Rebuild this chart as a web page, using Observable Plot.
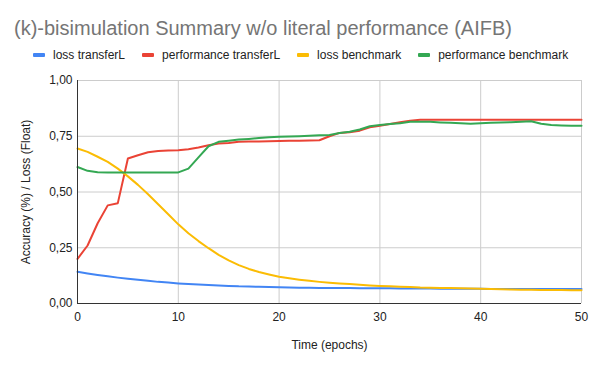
<!DOCTYPE html>
<html>
<head>
<meta charset="utf-8">
<script src="https://cdn.jsdelivr.net/npm/d3@7"></script>
<script src="https://cdn.jsdelivr.net/npm/@observablehq/plot@0.6"></script>
<style>
  html, body { margin: 0; padding: 0; background: #fff; }
  #wrap { position: relative; width: 600px; height: 370px; font-family: "Liberation Sans", Arial, sans-serif; }
  #title { position: absolute; left: 14px; top: 17px; font-size: 20px; color: #757575; white-space: nowrap; }
  #legend { position: absolute; left: 33px; top: 48px; display: flex; gap: 17px; font-size: 12px; color: #222; white-space: nowrap; }
  #legend .item { display: flex; align-items: center; }
  #legend .sw { width: 12px; height: 4px; border-radius: 1px; margin-right: 8px; }
  #chart { position: absolute; left: 0; top: 0; }
</style>
</head>
<body>
<div id="wrap">
  <div id="chart"></div>
  <div id="title">(k)-bisimulation Summary w/o literal performance (AIFB)</div>
  <div id="legend"></div>
</div>
<script>
const seriesNames = ["loss transferL", "performance transferL", "loss benchmark", "performance benchmark"];
const seriesColors = ["#4285f4", "#ea4335", "#fbbc04", "#34a853"];
const epochs = d3.range(0, 51);

const lossTransferL = [0.142,0.135,0.128,0.122,0.116,0.111,0.106,0.102,0.097,0.094,
  0.090,0.087,0.085,0.083,0.081,0.079,0.077,0.076,0.075,0.074,
  0.073,0.072,0.071,0.071,0.070,0.070,0.069,0.069,0.068,0.068,
  0.068,0.068,0.067,0.067,0.067,0.067,0.066,0.066,0.066,0.066,
  0.066,0.065,0.065,0.065,0.065,0.065,0.065,0.065,0.065,0.065,0.065];

const perfTransferL = [0.200,0.260,0.360,0.440,0.450,0.650,0.665,0.678,0.684,0.686,
  0.687,0.692,0.700,0.710,0.717,0.720,0.725,0.726,0.727,0.728,
  0.729,0.730,0.730,0.731,0.732,0.750,0.765,0.768,0.775,0.790,
  0.797,0.805,0.813,0.820,0.824,0.824,0.824,0.824,0.824,0.824,
  0.824,0.824,0.824,0.824,0.824,0.824,0.824,0.824,0.824,0.824,0.824];

const lossBenchmark = [0.695,0.680,0.658,0.635,0.605,0.570,0.532,0.490,0.445,0.400,
  0.355,0.315,0.280,0.248,0.218,0.193,0.172,0.155,0.141,0.130,
  0.120,0.113,0.107,0.102,0.097,0.093,0.090,0.087,0.084,0.081,
  0.079,0.077,0.075,0.074,0.072,0.071,0.070,0.069,0.068,0.067,
  0.066,0.065,0.064,0.063,0.062,0.062,0.061,0.060,0.060,0.059,0.059];

const perfBenchmark = [0.612,0.595,0.589,0.588,0.588,0.588,0.588,0.588,0.588,0.588,
  0.588,0.605,0.655,0.705,0.725,0.730,0.735,0.738,0.742,0.745,
  0.748,0.749,0.750,0.752,0.754,0.756,0.765,0.770,0.780,0.795,
  0.800,0.805,0.808,0.815,0.815,0.815,0.812,0.810,0.808,0.806,
  0.808,0.810,0.812,0.813,0.815,0.817,0.806,0.800,0.798,0.797,0.797];

const xTicks = [0, 10, 20, 30, 40, 50];
const yTicks = [0, 0.25, 0.5, 0.75, 1];
const xLabel = "Time (epochs)";
const yLabel = "Accuracy (%) / Loss (Float)";

const allSeries = [lossTransferL, perfTransferL, lossBenchmark, perfBenchmark];
const rows = [];
allSeries.forEach((vals, i) => {
  epochs.forEach((e, j) => rows.push({epoch: e, value: vals[j], series: seriesNames[i]}));
});

const fmt = v => v.toFixed(2).replace(".", ",");

const chart = Plot.plot({
  width: 600,
  height: 370,
  marginTop: 80,
  marginBottom: 67,
  marginLeft: 77,
  marginRight: 19,
  style: {fontFamily: "'Liberation Sans', Arial, sans-serif", fontSize: "12px", color: "#222", background: "transparent", overflow: "visible"},
  x: {domain: [0, 50]},
  y: {domain: [0, 1]},
  color: {domain: seriesNames, range: seriesColors},
  marks: [
    Plot.gridX(xTicks, {stroke: "#cccccc", strokeOpacity: 1}),
    Plot.gridY(yTicks, {stroke: "#cccccc", strokeOpacity: 1}),
    Plot.axisX(xTicks, {tickSize: 0, tickPadding: 9, fontSize: 12, label: xLabel, labelAnchor: "center", labelOffset: 45, labelArrow: "none"}),
    Plot.axisY(yTicks, {tickSize: 0, tickPadding: 5, fontSize: 12, tickFormat: fmt, label: yLabel, labelAnchor: "center", labelOffset: 56, labelArrow: "none"}),
    Plot.line(rows, {x: "epoch", y: "value", z: "series", stroke: "series", strokeWidth: 2, curve: "linear"}),
    Plot.ruleX([0], {stroke: "#333"}),
    Plot.ruleY([0], {stroke: "#333"})
  ]
});
document.getElementById("chart").appendChild(chart);

const legend = document.getElementById("legend");
seriesNames.forEach((n, i) => {
  const it = document.createElement("div");
  it.className = "item";
  const sw = document.createElement("span");
  sw.className = "sw";
  sw.style.background = seriesColors[i];
  const t = document.createElement("span");
  t.textContent = n;
  it.appendChild(sw); it.appendChild(t);
  legend.appendChild(it);
});
</script>
</body>
</html>
